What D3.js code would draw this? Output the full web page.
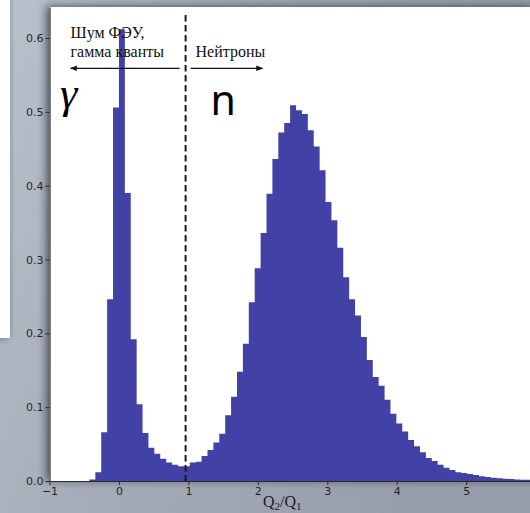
<!DOCTYPE html>
<html>
<head>
<meta charset="utf-8">
<script src="https://cdn.jsdelivr.net/npm/d3@7"></script>
<style>
  body { margin: 0; overflow: hidden; background: #a5abb7; }
</style>
</head>
<body>
<svg id="chart"></svg>
<script>
// гистограмма Q2/Q1, бины по 0.085 начиная с -0.425
const binStart = -0.425;
const binWidth = 0.085;
const counts = [
  0.002, 0.012, 0.066, 0.246, 0.506, 0.612, 0.390, 0.192, 0.104, 0.065,
  0.045, 0.037, 0.030, 0.025, 0.022, 0.020, 0.020, 0.025, 0.026, 0.034,
  0.042, 0.052, 0.064, 0.089, 0.114, 0.148, 0.186, 0.242, 0.288, 0.336,
  0.389, 0.436, 0.472, 0.485, 0.509, 0.502, 0.497, 0.475, 0.453, 0.421,
  0.378, 0.353, 0.316, 0.276, 0.246, 0.224, 0.195, 0.164, 0.141, 0.129,
  0.110, 0.091, 0.078, 0.067, 0.0555, 0.047, 0.039, 0.031, 0.027, 0.022,
  0.018, 0.015, 0.012, 0.011, 0.0095, 0.008, 0.0063, 0.0055, 0.0045, 0.0036,
  0.003, 0.0027, 0.0022, 0.0018, 0.0016
];
const xTicks = [-1, 0, 1, 2, 3, 4, 5];
const yTicks = [0, 0.1, 0.2, 0.3, 0.4, 0.5, 0.6];
const cutValue = 0.96;
const gammaLines = ["Шум ФЭУ,", "гамма кванты"];
const neutronLabel = "Нейтроны";

const width = 530;
const height = 513;

const svg = d3.select("#chart")
    .attr("width", width)
    .attr("height", height);

const defs = svg.append("defs");

// фон слайда
const bg = defs.append("linearGradient")
    .attr("id", "bg")
    .attr("x1", 0).attr("y1", 0).attr("x2", 1).attr("y2", 0.4);
bg.append("stop").attr("offset", 0).attr("stop-color", "#bac1cd");
bg.append("stop").attr("offset", 0.45).attr("stop-color", "#a6acb8");
bg.append("stop").attr("offset", 1).attr("stop-color", "#979daa");

const shadow = defs.append("filter")
    .attr("id", "shadow")
    .attr("x", "-10%").attr("y", "-10%")
    .attr("width", "120%").attr("height", "120%");
shadow.append("feDropShadow")
    .attr("dx", -3).attr("dy", -1)
    .attr("stdDeviation", 4)
    .attr("flood-color", "#1e2026")
    .attr("flood-opacity", 0.7);

svg.append("rect")
    .attr("width", width)
    .attr("height", height)
    .attr("fill", "url(#bg)");

// белый блок слева (другой элемент слайда)
svg.append("rect")
    .attr("x", -30).attr("y", -30)
    .attr("width", 40).attr("height", 368)
    .attr("fill", "#ffffff")
    .attr("filter", "url(#shadow)");

// шкалы
const x = d3.scaleLinear()
    .domain([-1, 6])
    .range([49.5, 535.6]);

const y = d3.scaleLinear()
    .domain([0, 0.642])
    .range([481, 7]);

// поле графика
svg.append("rect")
    .attr("x", x(-1))
    .attr("y", y(0.642))
    .attr("width", x(6) - x(-1))
    .attr("height", y(0) - y(0.642))
    .attr("fill", "#ffffff")
    .attr("filter", "url(#shadow)");

defs.append("clipPath").attr("id", "plot")
  .append("rect")
    .attr("x", x(-1)).attr("y", y(0.642))
    .attr("width", x(6) - x(-1)).attr("height", y(0) - y(0.642));

// столбцы гистограммы одной ступенчатой областью
const steps = counts.map((c, i) => [binStart + i * binWidth, c]);
steps.push([binStart + counts.length * binWidth, counts[counts.length - 1]]);

const area = d3.area()
    .curve(d3.curveStepAfter)
    .x(d => x(d[0]))
    .y0(y(0))
    .y1(d => y(d[1]));

svg.append("path")
    .datum(steps)
    .attr("clip-path", "url(#plot)")
    .attr("d", area)
    .attr("fill", "#4141a6");

// оси
const xAxis = svg.append("g")
    .attr("transform", `translate(0,${y(0)})`)
    .call(d3.axisBottom(x)
        .tickValues(xTicks)
        .tickSize(4)
        .tickPadding(2)
        .tickSizeOuter(0)
        .tickFormat(d => d < 0 ? "\u2212" + Math.abs(d) : d));

const yAxis = svg.append("g")
    .attr("transform", `translate(${x(-1)},0)`)
    .call(d3.axisLeft(y)
        .tickValues(yTicks)
        .tickSize(4)
        .tickPadding(2)
        .tickSizeOuter(0)
        .tickFormat(d3.format(".1f")));

[xAxis, yAxis].forEach(g => {
    g.select(".domain").attr("stroke", "#2a2a2a").attr("stroke-width", 1.2);
    g.selectAll(".tick line").attr("stroke", "#2a2a2a");
    g.selectAll(".tick text")
        .attr("fill", "#262626")
        .style("font-family", "'DejaVu Sans', sans-serif")
        .style("font-size", "11px");
});

// подпись оси X
const xLabel = svg.append("text")
    .attr("x", 263)
    .attr("y", 507)
    .attr("fill", "#1a1a1a")
    .style("font-family", "'Liberation Serif', serif")
    .style("font-size", "16px");
xLabel.append("tspan").text("Q");
xLabel.append("tspan").attr("dy", 3).style("font-size", "11px").text("2");
xLabel.append("tspan").attr("dy", -3).text("/Q");
xLabel.append("tspan").attr("dy", 3).style("font-size", "11px").text("1");

// граница отбора
svg.append("line")
    .attr("x1", x(cutValue)).attr("x2", x(cutValue))
    .attr("y1", y(0.631)).attr("y2", y(0))
    .attr("stroke", "#1a1a1a")
    .attr("stroke-width", 2)
    .attr("stroke-dasharray", "6.5,3.5");

// стрелки
defs.append("marker")
    .attr("id", "head")
    .attr("viewBox", "0 0 10 10")
    .attr("refX", 9).attr("refY", 5)
    .attr("markerWidth", 7).attr("markerHeight", 7)
    .attr("markerUnits", "userSpaceOnUse")
    .attr("orient", "auto")
  .append("path")
    .attr("d", "M0,1 L10,5 L0,9 Z")
    .attr("fill", "#111");

const arrows = [[0.873, -0.697], [1.031, 2.068]];
svg.selectAll(".arrow")
    .data(arrows)
    .enter()
    .append("line")
    .attr("class", "arrow")
    .attr("x1", d => x(d[0]))
    .attr("x2", d => x(d[1]))
    .attr("y1", y(0.559))
    .attr("y2", y(0.559))
    .attr("stroke", "#111")
    .attr("stroke-width", 1.3)
    .attr("marker-end", "url(#head)");

// подписи
svg.selectAll(".gline")
    .data(gammaLines)
    .enter()
    .append("text")
    .attr("class", "gline")
    .attr("x", x(-0.697))
    .attr("y", (_, i) => y(0.6) + i * 19)
    .attr("fill", "#111")
    .style("font-family", "'Liberation Serif', serif")
    .style("font-size", "16px")
    .text(d => d);

svg.append("text")
    .attr("x", x(1.103))
    .attr("y", y(0.6) + 19)
    .attr("fill", "#111")
    .style("font-family", "'Liberation Serif', serif")
    .style("font-size", "16px")
    .text(neutronLabel);

svg.append("text")
    .attr("x", x(-0.85))
    .attr("y", y(0.505))
    .attr("fill", "#000")
    .style("font-family", "'Liberation Serif', serif")
    .style("font-style", "italic")
    .style("font-size", "44px")
    .text("γ");

svg.append("text")
    .attr("x", x(1.32))
    .attr("y", y(0.4957))
    .attr("fill", "#000")
    .style("font-family", "'Noto Sans', sans-serif")
    .style("font-size", "41px")
    .text("n");
</script>
</body>
</html>
